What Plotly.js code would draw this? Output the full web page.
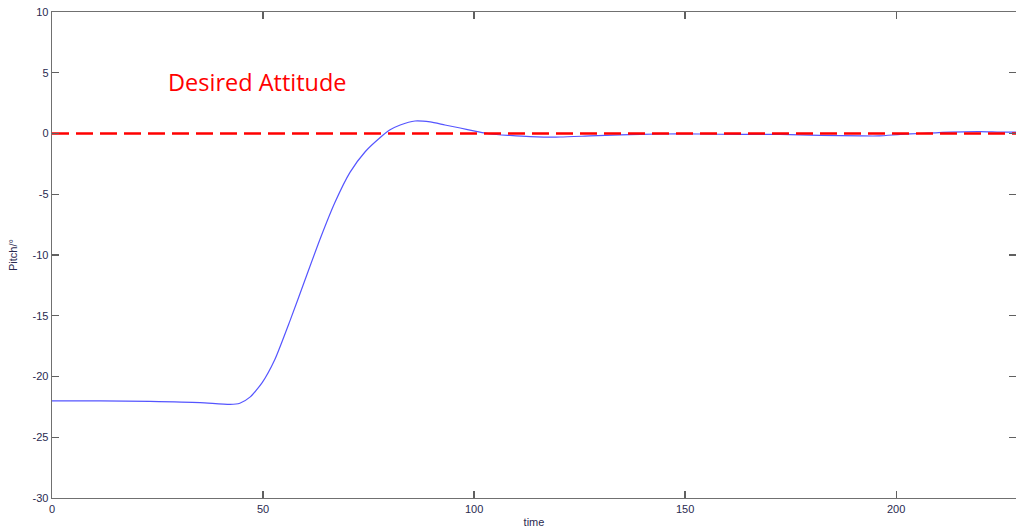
<!DOCTYPE html>
<html><head><meta charset="utf-8">
<script src="https://cdn.plot.ly/plotly-3.0.1.min.js"></script>
<style>html,body{margin:0;padding:0;background:#fff}#chart{width:1016px;height:531px}</style>
</head><body><div id="chart"></div>
<script>
const timeVals = [0, 11.4, 23.2, 35.1, 42.2, 44.5, 46.9, 49.8, 52.8, 56.4, 60.0, 63.5, 67.0, 70.6, 74.2, 77.7, 80.1, 82.5, 86.0, 89.6, 93.1, 96.7, 100.2, 103.8, 108.5, 113.3, 120.4, 127.5, 134.6, 144.0, 153.6, 163.0, 172.5, 182.0, 191.5, 196.0, 201.0, 205.7, 212.8, 219.9, 224.6, 228.4];
const pitchVals = [-22.0, -22.0, -22.05, -22.15, -22.3, -22.2, -21.7, -20.5, -18.6, -15.4, -12.0, -8.7, -5.7, -3.2, -1.5, -0.35, 0.3, 0.7, 1.03, 0.95, 0.7, 0.45, 0.2, -0.04, -0.16, -0.25, -0.29, -0.2, -0.12, -0.04, -0.04, -0.08, -0.08, -0.16, -0.2, -0.2, -0.08, 0.0, 0.12, 0.16, 0.12, 0.12];
const desiredX = [0, 228.4];
const desiredY = [0, 0];
const xTicks = [0, 50, 100, 150, 200];
const yTicks = [-30, -25, -20, -15, -10, -5, 0, 5, 10];
const annText = "Desired Attitude";

const labelFont = {family: 'Arial, Liberation Sans, sans-serif', size: 11, color: '#2a2a50'};
const axisCommon = {
  showgrid: false, zeroline: false, showline: true, linecolor: '#707070', linewidth: 1.3,
  mirror: 'ticks', ticks: 'inside', ticklen: 7, tickcolor: '#606060', tickwidth: 1.2,
  tickfont: labelFont
};
const data = [
  {x: timeVals, y: pitchVals, mode: 'lines', line: {color: '#5555ff', width: 1.2, shape: 'spline', smoothing: 0.6}, hoverinfo: 'none'},
  {x: desiredX, y: desiredY, mode: 'lines', line: {color: '#ff0000', width: 2.5, dash: '17px,7px'}, hoverinfo: 'none'}
];
const layout = {
  width: 1016, height: 531, showlegend: false,
  paper_bgcolor: '#fff', plot_bgcolor: '#fff',
  margin: {l: 52, r: 0, t: 12, b: 33},
  xaxis: Object.assign({}, axisCommon, {range: [0, 228.4], tickvals: xTicks, ticktext: xTicks.map(String),
    title: {text: 'time', font: labelFont, standoff: 4}}),
  yaxis: Object.assign({}, axisCommon, {range: [-30, 10], tickvals: yTicks, ticktext: yTicks.map(String),
    title: {text: 'Pitch/°', font: labelFont, standoff: 12}}),
  annotations: [{x: 26.9, y: 4.2, xref: 'x', yref: 'y', xanchor: 'left', yanchor: 'middle', text: annText, showarrow: false,
    font: {family: 'Open Sans, sans-serif', size: 23.5, color: '#ff0000'}}]
};
Plotly.newPlot('chart', data, layout, {staticPlot: true});
</script></body></html>
